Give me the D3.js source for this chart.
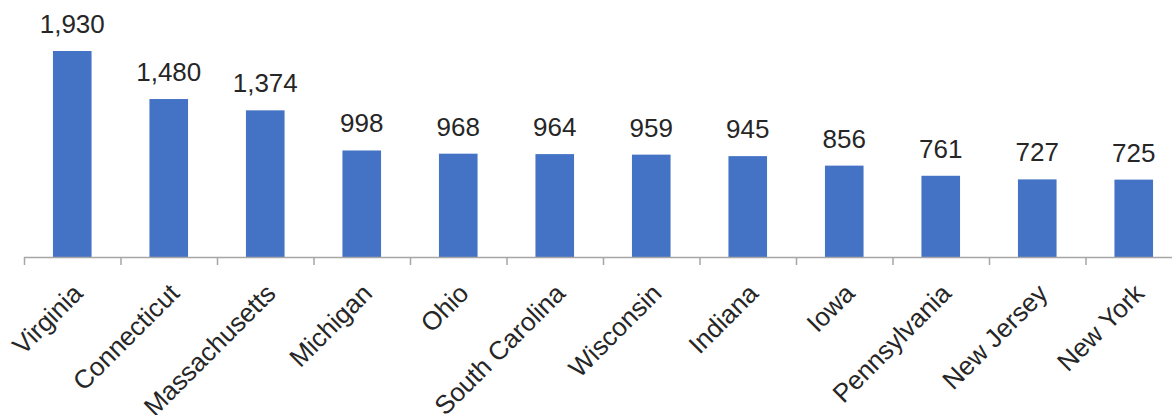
<!DOCTYPE html>
<html>
<head>
<meta charset="utf-8">
<script src="https://cdn.jsdelivr.net/npm/d3@7"></script>
<style>
  body { margin: 0; background: #fff; }
  text { font-family: "Liberation Sans", Arial, sans-serif; fill: #262626; }
</style>
</head>
<body>
<div id="chart"></div>
<script>
// states and values
var states = ["Virginia", "Connecticut", "Massachusetts", "Michigan", "Ohio", "South Carolina",
              "Wisconsin", "Indiana", "Iowa", "Pennsylvania", "New Jersey", "New York"];
var counts = [1930, 1480, 1374, 998, 968, 964, 959, 945, 856, 761, 727, 725];

var width = 1172, height = 415;
var left = 24, right = 1182, base = 257;

var svg = d3.select("#chart").append("svg")
  .attr("width", width)
  .attr("height", height);

var x = d3.scaleBand().domain(states).range([left, right]).paddingInner(0.6).paddingOuter(0.3);
var band = d3.scaleBand().domain(states).range([left, right]);
var y = d3.scaleLinear().domain([0, 1930]).range([base, 51]);

var data = states.map(function(s, i) { return {name: s, num: counts[i]}; });

svg.selectAll("rect.bar")
  .data(data).enter().append("rect")
  .attr("class", "bar")
  .attr("x", function(d) { return x(d.name); })
  .attr("width", x.bandwidth())
  .attr("y", function(d) { return y(d.num); })
  .attr("height", function(d) { return base - y(d.num); })
  .attr("fill", "#4472c4");

// value labels
svg.selectAll("text.val")
  .data(data).enter().append("text")
  .attr("class", "val")
  .attr("x", function(d) { return band(d.name) + band.bandwidth() / 2; })
  .attr("y", function(d) { return y(d.num) - 18; })
  .attr("text-anchor", "middle")
  .style("font-size", "26px")
  .text(function(d) { return d3.format(",")(d.num); });

// axis line + ticks
svg.append("line")
  .attr("x1", left).attr("x2", right)
  .attr("y1", base + 0.5).attr("y2", base + 0.5)
  .attr("stroke", "#a6a6a6").attr("stroke-width", 1.5);

svg.selectAll("line.tick")
  .data(states).enter().append("line")
  .attr("class", "tick")
  .attr("x1", function(d) { return band(d) + 0.5; })
  .attr("x2", function(d) { return band(d) + 0.5; })
  .attr("y1", base).attr("y2", base + 8)
  .attr("stroke", "#a6a6a6").attr("stroke-width", 1.5);

// rotated category labels
svg.selectAll("text.cat")
  .data(states).enter().append("text")
  .attr("class", "cat")
  .attr("transform", function(d) {
    return "translate(" + (band(d) + band.bandwidth() / 2 + 12) + "," + (base + 38) + ") rotate(-45)";
  })
  .attr("text-anchor", "end")
  .style("font-size", "26px")
  .text(function(d) { return d; });
</script>
</body>
</html>
